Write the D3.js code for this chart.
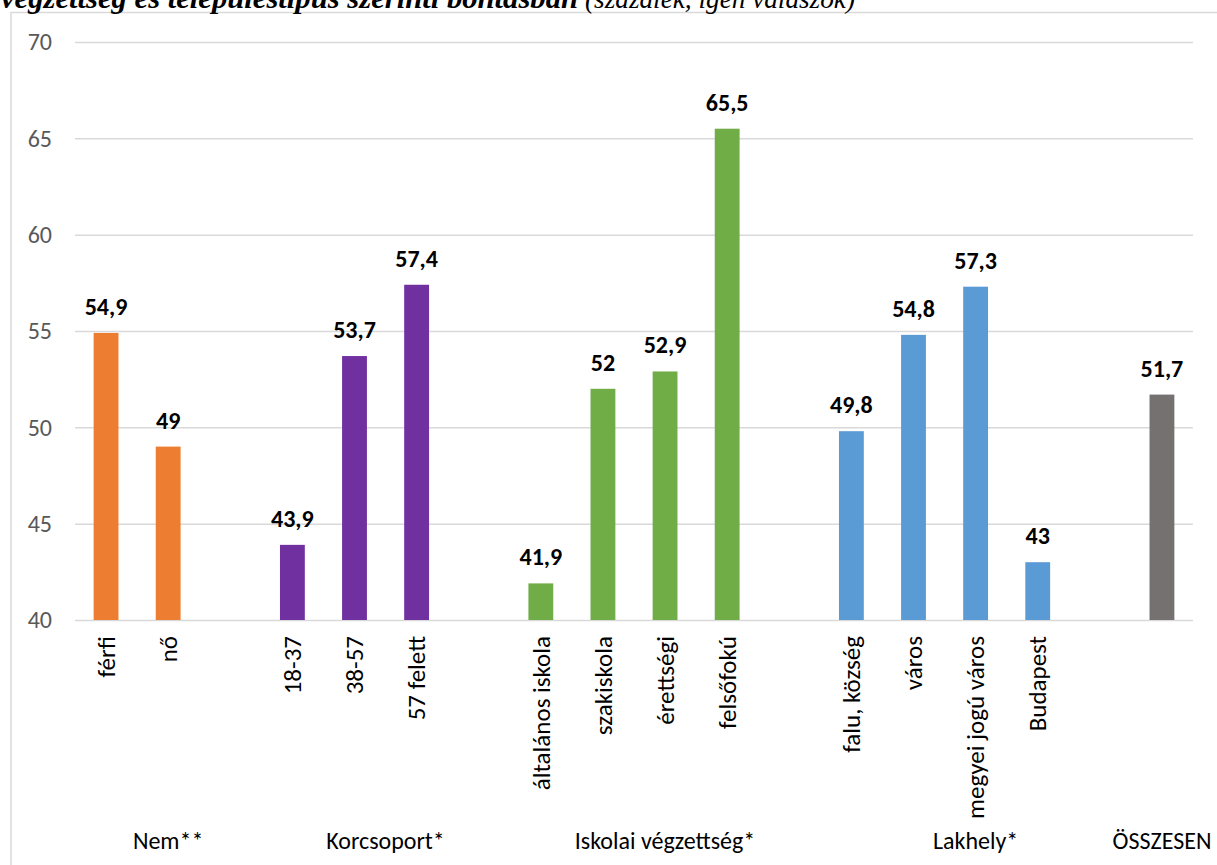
<!DOCTYPE html>
<html>
<head>
<meta charset="utf-8">
<script src="https://cdn.jsdelivr.net/npm/d3@7"></script>
<style>
  body { margin: 0; background: #fff; }
  svg { display: block; }
  .title { font-family: "Liberation Serif", "DejaVu Serif", "Times New Roman", serif; font-style: italic; }
</style>
</head>
<body>
<script>
// chart data
const groups = ["Nem**", "Korcsoport*", "Iskolai végzettség*", "Lakhely*", "ÖSSZESEN"];
const categories = [
    "férfi", "nő",
    "18-37", "38-57", "57 felett",
    "általános iskola", "szakiskola", "érettségi", "felsőfokú",
    "falu, község", "város", "megyei jogú város", "Budapest",
    ""
];
const categoryGroup = [0, 0, 1, 1, 1, 2, 2, 2, 2, 3, 3, 3, 3, 4];
const values = [54.9, 49, 43.9, 53.7, 57.4, 41.9, 52, 52.9, 65.5, 49.8, 54.8, 57.3, 43, 51.7];
const yTicks = [40, 45, 50, 55, 60, 65, 70];

const groupColors = ["#ED7D31", "#7030A0", "#70AD47", "#5B9BD5", "#767171"];

const width = 1217, height = 865;
const plot = { left: 75, right: 1193, top: 42, bottom: 620 };
const font = "Calibri, Carlito, 'Open Sans', sans-serif";

const svg = d3.select("body")
    .append("svg")
    .attr("width", width)
    .attr("height", height);

// frame of the chart area
svg.append("path")
    .attr("d", `M11,${height} V12.5 H${width}`)
    .attr("fill", "none")
    .attr("stroke", "#d9d9d9")
    .attr("stroke-width", 1.5);

// title, cut at the top edge of the picture
let title = svg.append("text")
    .attr("class", "title")
    .attr("y", 8);
title.append("tspan")
    .attr("x", 1)
    .style("font-size", "29px")
    .style("font-weight", "bold")
    .attr("textLength", 577)
    .attr("lengthAdjust", "spacingAndGlyphs")
    .text("végzettség és településtípus szerinti bontásban");
title.append("tspan")
    .attr("x", 585)
    .style("font-size", "27px")
    .attr("textLength", 270)
    .attr("lengthAdjust", "spacingAndGlyphs")
    .text("(százalék, igen válaszok)");

// one slot per category, one empty slot after each group except the last
let slots = [];
groups.forEach((g, gi) => {
    categories.forEach((c, i) => {
        if (categoryGroup[i] === gi) slots.push({ key: "c" + i, index: i, group: gi });
    });
    if (gi < groups.length - 1) slots.push({ key: "gap" + gi, index: -1, group: gi });
});

let x = d3.scaleBand()
    .domain(slots.map(s => s.key))
    .range([plot.left, plot.right])
    .paddingInner(0.6)
    .paddingOuter(0.3);

let y = d3.scaleLinear()
    .domain([40, 70])
    .range([plot.bottom, plot.top]);

// gridlines + y labels
let yAxis = d3.axisLeft(y)
    .tickValues(yTicks)
    .tickSize(-(plot.right - plot.left))
    .tickPadding(23)
    .tickFormat(d3.format("d"));

let yg = svg.append("g")
    .attr("transform", `translate(${plot.left},0)`)
    .call(yAxis);
yg.select(".domain").remove();
yg.selectAll(".tick line")
    .attr("stroke", "#d9d9d9")
    .attr("stroke-width", 1.5);
yg.selectAll(".tick text")
    .attr("fill", "#595959")
    .attr("font-family", font)
    .attr("font-size", 24);

// bars
let barData = categories.map((c, i) => ({ name: c, value: values[i], group: categoryGroup[i], key: "c" + i }));

svg.append("g")
    .selectAll("rect")
    .data(barData)
    .enter()
    .append("rect")
    .attr("x", d => x(d.key))
    .attr("width", x.bandwidth())
    .attr("y", d => y(d.value))
    .attr("height", d => y(40) - y(d.value))
    .attr("fill", d => groupColors[d.group]);

// value labels
svg.append("g")
    .selectAll("text")
    .data(barData)
    .enter()
    .append("text")
    .attr("x", d => x(d.key) + x.bandwidth() / 2)
    .attr("y", d => y(d.value) - 18)
    .attr("text-anchor", "middle")
    .attr("font-family", font)
    .attr("font-size", 24)
    .attr("font-weight", "bold")
    .attr("fill", "#000")
    .text(d => String(d.value).replace(".", ","));

// rotated category labels
svg.append("g")
    .selectAll("text")
    .data(barData.filter(d => d.name !== ""))
    .enter()
    .append("text")
    .attr("transform", d => `translate(${x(d.key) + x.bandwidth() / 2},636) rotate(-90)`)
    .attr("dy", "0.35em")
    .attr("text-anchor", "end")
    .attr("font-family", font)
    .attr("font-size", 25)
    .attr("fill", "#000")
    .text(d => d.name);

// group labels, centred under the group's slots
svg.append("g")
    .selectAll("text")
    .data(groups)
    .enter()
    .append("text")
    .attr("x", (g, gi) => {
        let own = slots.filter(s => s.group === gi);
        return d3.mean(own, s => x(s.key) + x.bandwidth() / 2);
    })
    .attr("y", 849)
    .attr("text-anchor", "middle")
    .attr("font-family", font)
    .attr("font-size", 24)
    .attr("fill", "#000")
    .text(g => g);
</script>
</body>
</html>
